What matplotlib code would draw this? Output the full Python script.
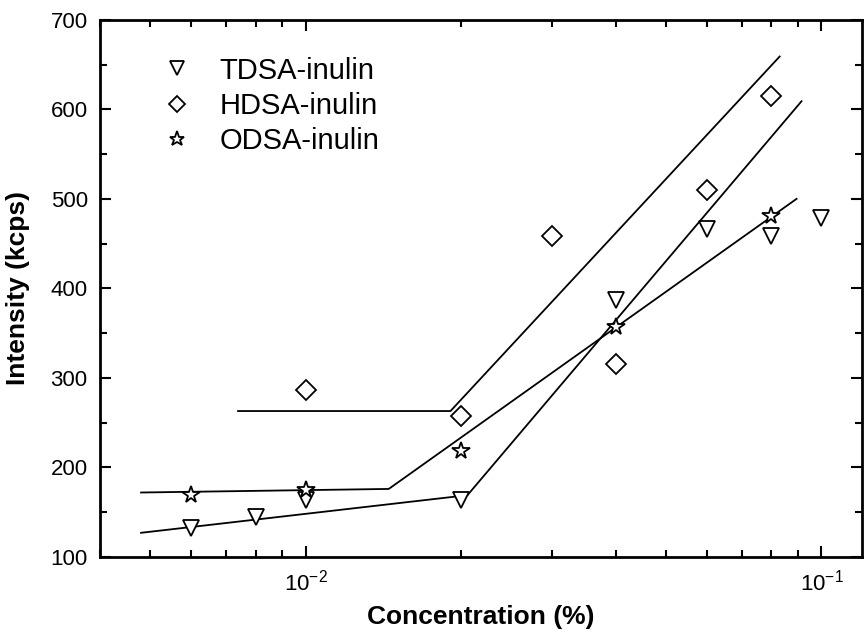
import numpy as np
import matplotlib
matplotlib.use('Agg')
import matplotlib.pyplot as plt
from matplotlib.ticker import LogLocator, MultipleLocator, NullFormatter

plt.rcParams['font.family'] = ['Liberation Sans', 'DejaVu Sans']
plt.rcParams['mathtext.fontset'] = 'custom'
plt.rcParams['mathtext.rm'] = 'Liberation Sans'

# measured points
tdsa_x = [0.006, 0.008, 0.01, 0.02, 0.04, 0.06, 0.08, 0.1]
tdsa_y = [132, 145, 164, 164, 387, 466, 458, 479]
hdsa_x = [0.01, 0.02, 0.03, 0.04, 0.06, 0.08]
hdsa_y = [287, 257, 458, 316, 510, 615]
odsa_x = [0.006, 0.01, 0.02, 0.04, 0.08]
odsa_y = [169, 175, 218, 357, 481]

# fitted break lines
tdsa_fit_x = [0.0048, 0.0206, 0.0915]
tdsa_fit_y = [127, 169, 609]
hdsa_fit_x = [0.0074, 0.0191, 0.083]
hdsa_fit_y = [263, 263, 659]
odsa_fit_x = [0.0048, 0.0145, 0.0895]
odsa_fit_y = [172, 176, 500]

labels = ['TDSA-inulin', 'HDSA-inulin', 'ODSA-inulin']

fig = plt.figure(figsize=(8.64, 6.38), dpi=100)
ax = fig.add_axes([0.116, 0.127, 0.882, 0.842])

for fx, fy in [(tdsa_fit_x, tdsa_fit_y), (hdsa_fit_x, hdsa_fit_y), (odsa_fit_x, odsa_fit_y)]:
    ax.plot(fx, fy, color='black', lw=1.3, zorder=2)

mk = dict(ls='none', mfc='white', mec='black', mew=1.3, color='black', zorder=3)
ax.plot(tdsa_x, tdsa_y, marker='v', ms=12, label=labels[0], **mk)
ax.plot(hdsa_x, hdsa_y, marker='D', ms=10, label=labels[1], **mk)
ax.plot(odsa_x, odsa_y, marker='*', ms=13, label=labels[2], **mk)

ax.set_xscale('log')
ax.set_xlim(0.004, 0.12)
ax.set_ylim(100, 700)
ax.xaxis.set_major_locator(LogLocator(base=10))
ax.xaxis.set_minor_locator(LogLocator(base=10, subs=np.arange(2, 10)))
ax.xaxis.set_minor_formatter(NullFormatter())
ax.yaxis.set_major_locator(MultipleLocator(100))
ax.yaxis.set_minor_locator(MultipleLocator(50))

ax.tick_params(which='both', direction='in', top=True, right=True, width=1.5,
               labelsize=16, pad=9)
ax.tick_params(which='major', length=8)
ax.tick_params(which='minor', length=5)
for s in ax.spines.values():
    s.set_linewidth(2)

ax.set_xlabel('Concentration (%)', fontsize=19, fontweight='bold')
ax.set_ylabel('Intensity (kcps)', fontsize=19, fontweight='bold')
ax.xaxis.set_label_coords(0.5, -0.09)
ax.yaxis.set_label_coords(-0.092, 0.5)

leg = ax.legend(loc='upper left', bbox_to_anchor=(0.063, 0.953), frameon=False,
                fontsize=21, handlelength=1.2, handletextpad=0.85, labelspacing=0.25,
                borderaxespad=0, markerscale=0.85)

fig.savefig('out.png', dpi=100)
